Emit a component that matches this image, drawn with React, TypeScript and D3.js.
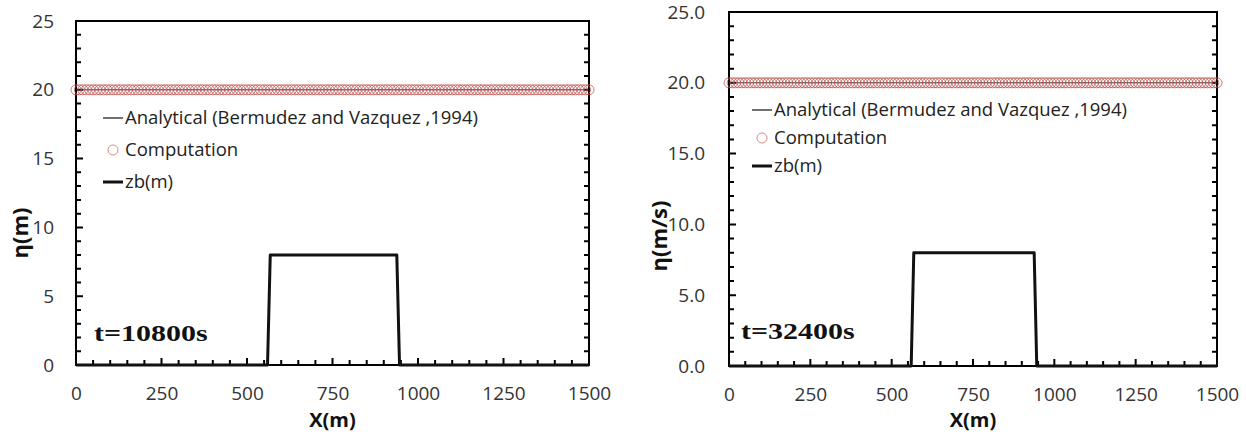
import React, { useEffect, useRef } from 'react';
import * as d3 from 'd3';

// axis ticks
const xTicks = [0, 250, 500, 750, 1000, 1250, 1500];
const yTicks = [0, 5, 10, 15, 20, 25];

// bed profile zb(m)
const bedX = [0, 560, 568, 938, 946, 1500];
const bedZ = [0, 0, 8, 8, 0, 0];

// analytical water level
const anaX = [0, 1500];
const anaEta = [20, 20];

// computed water level (mesh points)
const compX = [
  0, 10, 20, 30, 40, 50, 60, 70, 80, 90, 100, 110, 120, 130, 140, 150, 160, 170, 180, 190,
  200, 210, 220, 230, 240, 250, 260, 270, 280, 290, 300, 310, 320, 330, 340, 350, 360, 370, 380, 390,
  400, 410, 420, 430, 440, 450, 460, 470, 480, 490, 500, 510, 520, 530, 540, 550, 560, 570, 580, 590,
  600, 610, 620, 630, 640, 650, 660, 670, 680, 690, 700, 710, 720, 730, 740, 750, 760, 770, 780, 790,
  800, 810, 820, 830, 840, 850, 860, 870, 880, 890, 900, 910, 920, 930, 940, 950, 960, 970, 980, 990,
  1000, 1010, 1020, 1030, 1040, 1050, 1060, 1070, 1080, 1090, 1100, 1110, 1120, 1130, 1140, 1150, 1160, 1170, 1180, 1190,
  1200, 1210, 1220, 1230, 1240, 1250, 1260, 1270, 1280, 1290, 1300, 1310, 1320, 1330, 1340, 1350, 1360, 1370, 1380, 1390,
  1400, 1410, 1420, 1430, 1440, 1450, 1460, 1470, 1480, 1490, 1500,
];
const compEta = [
  20, 20, 20, 20, 20, 20, 20, 20, 20, 20, 20, 20, 20, 20, 20, 20, 20, 20, 20, 20,
  20, 20, 20, 20, 20, 20, 20, 20, 20, 20, 20, 20, 20, 20, 20, 20, 20, 20, 20, 20,
  20, 20, 20, 20, 20, 20, 20, 20, 20, 20, 20, 20, 20, 20, 20, 20, 20, 20, 20, 20,
  20, 20, 20, 20, 20, 20, 20, 20, 20, 20, 20, 20, 20, 20, 20, 20, 20, 20, 20, 20,
  20, 20, 20, 20, 20, 20, 20, 20, 20, 20, 20, 20, 20, 20, 20, 20, 20, 20, 20, 20,
  20, 20, 20, 20, 20, 20, 20, 20, 20, 20, 20, 20, 20, 20, 20, 20, 20, 20, 20, 20,
  20, 20, 20, 20, 20, 20, 20, 20, 20, 20, 20, 20, 20, 20, 20, 20, 20, 20, 20, 20,
  20, 20, 20, 20, 20, 20, 20, 20, 20, 20, 20,
];

const legendLabels = ['Analytical (Bermudez and Vazquez ,1994)', 'Computation', 'zb(m)'];

const panels = [
  {
    x0: 76, x1: 589, yTop: 21, yBot: 365, yFmt: d3.format('d'), yPad: 22,
    yTitle: 'η(m)', yTitleX: 20, yTitleY: 233, xTitleY: 427,
    time: 't=10800s', timeX: 94, timeY: 341,
    legX: 103, legY: 118, legStep: 32,
  },
  {
    x0: 729, x1: 1217, yTop: 12, yBot: 366, yFmt: d3.format('.1f'), yPad: 24,
    yTitle: 'η(m/s)', yTitleX: 659, yTitleY: 236, xTitleY: 427,
    time: 't=32400s', timeX: 741, timeY: 339,
    legX: 752, legY: 110, legStep: 28,
  },
];

const FONT = '"Open Sans", "Liberation Sans", sans-serif';

const App = () => {
  const svgRef = useRef<SVGSVGElement>(null);

  useEffect(() => {
    const svg = d3.select(svgRef.current);
    svg.selectAll('*').remove();

    panels.forEach(p => {
      const x = d3.scaleLinear().domain([0, 1500]).range([p.x0, p.x1]);
      const y = d3.scaleLinear().domain([0, 25]).range([p.yBot, p.yTop]);
      const g = svg.append('g');

      // frame
      g.append('rect')
        .attr('x', p.x0).attr('y', p.yTop)
        .attr('width', p.x1 - p.x0).attr('height', p.yBot - p.yTop)
        .attr('fill', 'none').attr('stroke', '#000').attr('stroke-width', 2);

      // inward ticks
      const minorX = d3.range(0, 1501, 50);
      const minorY = d3.range(0, 26, 1);
      const tp = d3.path();
      minorX.forEach(d => {
        tp.moveTo(x(d), p.yBot);
        tp.lineTo(x(d), p.yBot - (d % 250 === 0 ? 7 : 5));
      });
      minorY.forEach(d => {
        tp.moveTo(p.x0, y(d));
        tp.lineTo(p.x0 + (d % 5 === 0 ? 7 : 5), y(d));
        tp.moveTo(p.x1, y(d));
        tp.lineTo(p.x1 - 5, y(d));
      });
      g.append('path')
        .attr('d', tp.toString())
        .attr('fill', 'none')
        .attr('stroke', '#000')
        .attr('stroke-width', 2);

      // labels
      const xa = g.append('g')
        .attr('transform', `translate(0,${p.yBot})`)
        .call(d3.axisBottom(x).tickValues(xTicks).tickSize(0).tickPadding(22).tickFormat(d3.format('d') as any));
      const ya = g.append('g')
        .attr('transform', `translate(${p.x0},0)`)
        .call(d3.axisLeft(y).tickValues(yTicks).tickSize(0).tickPadding(p.yPad).tickFormat(p.yFmt as any));
      [xa, ya].forEach(a => {
        a.select('.domain').remove();
        a.selectAll('.tick line').remove();
        a.selectAll('.tick text')
          .attr('font-family', FONT)
          .attr('font-size', 19)
          .attr('fill', '#333');
      });

      // bed
      const line = d3.line<[number, number]>().x(d => x(d[0])).y(d => y(d[1]));
      g.append('path')
        .attr('d', line(bedX.map((v, i) => [v, bedZ[i]]))!)
        .attr('fill', 'none').attr('stroke', '#111').attr('stroke-width', 3)
        .attr('stroke-linejoin', 'round');

      // analytical
      g.append('path')
        .attr('d', line(anaX.map((v, i) => [v, anaEta[i]]))!)
        .attr('fill', 'none').attr('stroke', '#333').attr('stroke-width', 1);

      // computation
      g.append('g').selectAll('circle')
        .data(compX.map((v, i) => [v, compEta[i]]))
        .enter().append('circle')
        .attr('cx', d => x(d[0])).attr('cy', d => y(d[1]))
        .attr('r', 5)
        .attr('fill', 'none')
        .attr('stroke', '#c0504d')
        .attr('stroke-opacity', 0.75)
        .attr('stroke-width', 1);

      // legend
      const lg = g.append('g').attr('font-family', FONT).attr('font-size', 18.5).attr('fill', '#222');
      lg.append('line')
        .attr('x1', p.legX).attr('x2', p.legX + 20)
        .attr('y1', p.legY).attr('y2', p.legY)
        .attr('stroke', '#111').attr('stroke-width', 1.2);
      lg.append('circle')
        .attr('cx', p.legX + 10).attr('cy', p.legY + p.legStep)
        .attr('r', 5).attr('fill', 'none').attr('stroke', '#d98a8c').attr('stroke-width', 1);
      lg.append('line')
        .attr('x1', p.legX).attr('x2', p.legX + 20)
        .attr('y1', p.legY + 2 * p.legStep).attr('y2', p.legY + 2 * p.legStep)
        .attr('stroke', '#111').attr('stroke-width', 3);
      legendLabels.forEach((t, i) => {
        lg.append('text')
          .attr('x', p.legX + 22)
          .attr('y', p.legY + i * p.legStep)
          .attr('dy', '0.35em')
          .text(t);
      });

      // time label
      g.append('text')
        .attr('transform', `translate(${p.timeX},${p.timeY}) scale(1,0.78)`)
        .attr('font-family', '"Liberation Serif", "Times New Roman", serif')
        .attr('font-weight', 'bold')
        .attr('font-size', 30)
        .attr('fill', '#111')
        .text(p.time);

      // axis titles
      g.append('text')
        .attr('x', (p.x0 + p.x1) / 2).attr('y', p.xTitleY)
        .attr('text-anchor', 'middle')
        .attr('font-family', FONT).attr('font-weight', 'bold').attr('font-size', 20)
        .attr('fill', '#111')
        .text('X(m)');
      g.append('text')
        .attr('transform', `translate(${p.yTitleX},${p.yTitleY}) rotate(-90)`)
        .attr('text-anchor', 'middle')
        .attr('dy', '0.35em')
        .attr('font-family', FONT).attr('font-weight', 'bold').attr('font-size', 22)
        .attr('fill', '#111')
        .text(p.yTitle);
    });
  }, []);

  return (
    <svg
      ref={svgRef}
      width={1246}
      height={441}
      style={{ position: 'absolute', left: 0, top: 0, background: '#fff' }}
    />
  );
};

export default App;
